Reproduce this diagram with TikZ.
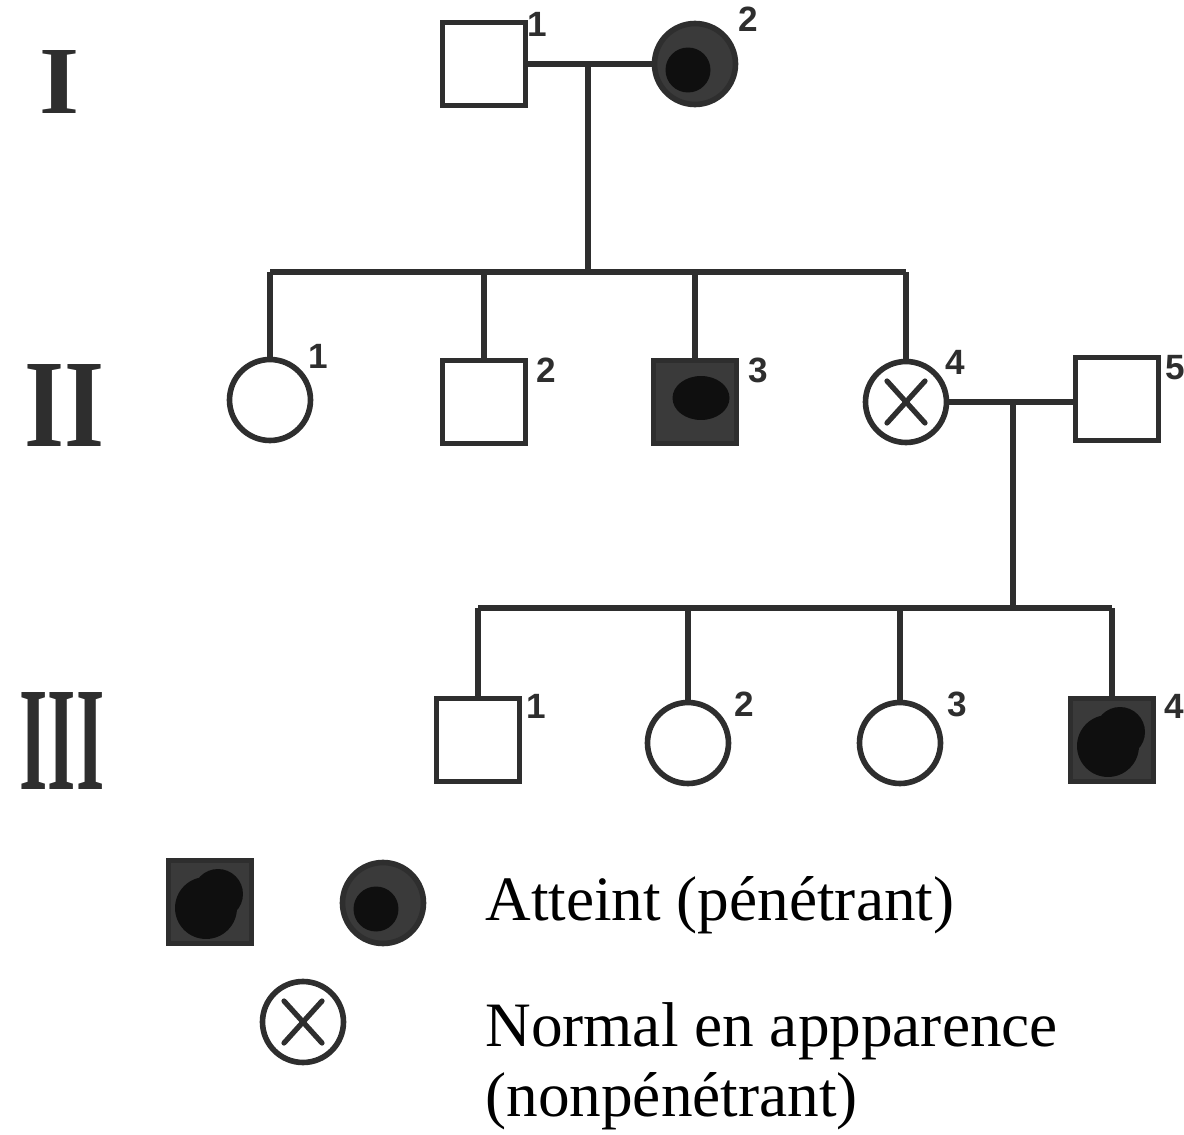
\documentclass[tikz,border=0pt]{standalone}
\usepackage{fontspec}
\setmainfont{Liberation Serif}
\newfontfamily\numfont{Liberation Sans}
\usepackage{graphicx}
\usetikzlibrary{calc}
\definecolor{ink}{HTML}{2E2E2E}
\definecolor{shade}{HTML}{3A3A3A}
\definecolor{core}{HTML}{0F0F0F}
\begin{document}
\begin{tikzpicture}[x=0.02cm,y=-0.02cm,
  ped/.style={draw=ink,line width=3.2pt,inner sep=0pt},
  male/.style={ped,rectangle,minimum size=1.66cm},
  female/.style={ped,circle,minimum size=1.62cm},
  link/.style={draw=ink,line width=3.2pt},
  num/.style={font=\numfont\bfseries\fontsize{20}{20}\selectfont,text=ink,inner sep=0pt},
  gen/.style={text=ink,inner sep=0pt,font=\bfseries},
  legend/.style={font=\fontsize{36}{40}\selectfont,anchor=base west,inner sep=0pt},
  affcirc/.style={female,fill=shade,path picture={\fill[core] ($(path picture bounding box.center)+(-7,6)$) circle (0.45cm);}},
  affsqA/.style={male,fill=shade,path picture={\fill[core] ($(path picture bounding box.center)+(6,-4)$) ellipse (0.57cm and 0.44cm);}},
  affsqB/.style={male,fill=shade,path picture={\fill[core] ($(path picture bounding box.center)+(-4,6)$) circle (0.62cm) ($(path picture bounding box.center)+(8,-8)$) circle (0.5cm);}},
  carrier/.style={female,path picture={\draw[ink,line width=3pt,line cap=round]
      ($(path picture bounding box.center)+(-19,-21)$) -- ($(path picture bounding box.center)+(19,21)$)
      ($(path picture bounding box.center)+(19,-21)$) -- ($(path picture bounding box.center)+(-19,21)$);}},
]
\useasboundingbox (0,0) rectangle (1184,1135);

% generation numerals
\node[gen] (gI)   at (60,82)  {\resizebox{0.8cm}{1.26cm}{I}};
\node[gen] (gII)  at (65,406) {\resizebox{1.6cm}{1.64cm}{II}};
\node[gen] (gIII) at (62,741) {\resizebox{1.7cm}{1.94cm}{III}};

% generation I
\node[male]     (I1) at (484,64) {};
\node[affcirc]  (I2) at (695,64) {};
\node[num] (nI1) at (537,24) {1};
\node[num] (nI2) at (748,19) {2};

% generation II
\node[female]   (II1) at (270,400) {};
\node[male]     (II2) at (484,402) {};
\node[affsqA]   (II3) at (695,402) {};
\node[carrier]  (II4) at (906,402) {};
\node[male]     (II5) at (1117,399) {};
\node[num] (nII1) at (318,356) {1};
\node[num] (nII2) at (546,370) {2};
\node[num] (nII3) at (758,370) {3};
\node[num] (nII4) at (955,362) {4};
\node[num] (nII5) at (1175,368) {5};

% generation III
\node[male]     (III1) at (478,740) {};
\node[female]   (III2) at (688,743) {};
\node[female]   (III3) at (900,743) {};
\node[affsqB]   (III4) at (1112,740) {};
\node[num] (nIII1) at (536,706) {1};
\node[num] (nIII2) at (744,704) {2};
\node[num] (nIII3) at (957,704) {3};
\node[num] (nIII4) at (1174,706) {4};

% mating and descent lines
\coordinate (m1) at (588,63);
\coordinate (s1) at (588,272);
\coordinate (m2) at (1013,402);
\coordinate (s2) at (1013,608);

\draw[link] (I1.east) -- (I2.west);
\draw[link] (m1) -- (s1);
\draw[link] (II1.north |- s1) -- (II4.north |- s1);
\foreach \k in {II1,II2,II3,II4} \draw[link] (\k.north) -- (\k.north |- s1);

\draw[link] (II4.east) -- (II5.west |- II4.east);
\draw[link] (m2) -- (s2);
\draw[link] (III1.north |- s2) -- (III4.north |- s2);
\foreach \k in {III1,III2,III3,III4} \draw[link] (\k.north) -- (\k.north |- s2);

% key
\node[affsqB]  (kM) at (210,902) {};
\node[affcirc] (kF) at (383,903) {};
\node[carrier] (kX) at (303,1022) {};
\node[legend] (t1) at (485,920)  {Atteint (pénétrant)};
\node[legend] (t2) at (485,1046) {Normal en appparence};
\node[legend] (t3) at (485,1116) {(nonpénétrant)};
\end{tikzpicture}
\end{document}
